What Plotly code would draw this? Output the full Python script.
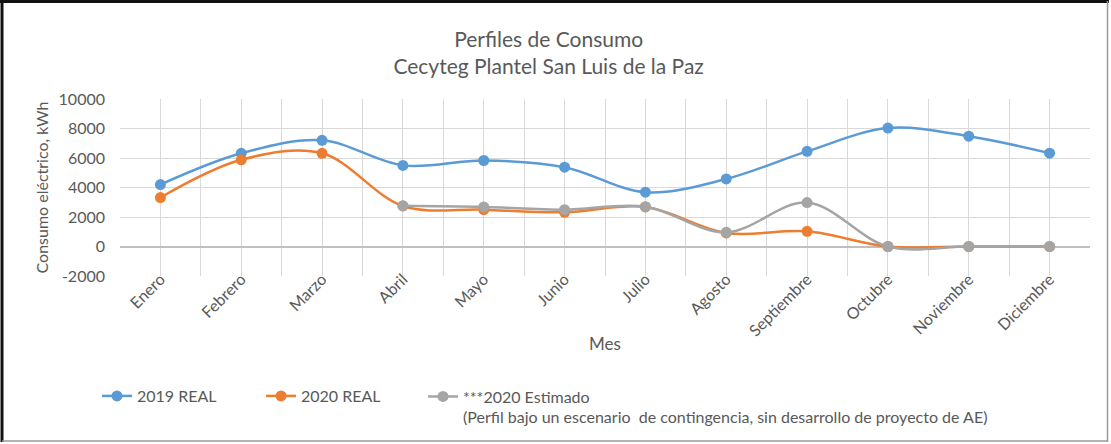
import plotly.graph_objects as go

months = ["Enero", "Febrero", "Marzo", "Abril", "Mayo", "Junio", "Julio",
          "Agosto", "Septiembre", "Octubre", "Noviembre", "Diciembre"]
real_2019 = [4200, 6320, 7200, 5500, 5830, 5380, 3680, 4580, 6450, 8030, 7480, 6330]
real_2020 = [3320, 5880, 6320, 2750, 2500, 2320, 2680, 920, 1030, 0, 0, 0]
est_2020 = [None, None, None, 2760, 2680, 2500, 2700, 960, 2980, 0, 0, 0]
y_ticks = [-2000, 0, 2000, 4000, 6000, 8000, 10000]
y_tick_text = ["-2000", "0", "2000", "4000", "6000", "8000", "10000"]

names = ["2019 REAL", "2020 REAL",
         "***2020 Estimado<br>(Perfil bajo un escenario  de contingencia, sin desarrollo de proyecto de AE)"]
colors = ["#5B9BD5", "#ED7D31", "#A5A5A5"]
series = [real_2019, real_2020, est_2020]
legend_ids = ["legend", "legend", "legend2"]

FONT = "Lato"
TXT = "#595959"

x_idx = list(range(len(months)))

fig = go.Figure()
for name, col, vals, lg in zip(names, colors, series, legend_ids):
    fig.add_trace(go.Scatter(
        x=x_idx, y=vals, name=name, mode="lines+markers",
        line=dict(color=col, width=2.5, shape="spline", smoothing=1.0),
        marker=dict(color=col, size=11),
        connectgaps=False, legend=lg,
    ))

L, R, T, B = 120, 21, 99, 168
W, H = 1111, 444
pw, ph = W - L - R, H - T - B

def px(x):
    return (x - L) / pw

def py(y):
    return (H - B - y) / ph

legend_common = dict(
    orientation="h", yanchor="middle", valign="top",
    font=dict(family=FONT, size=16, color=TXT),
    bgcolor="rgba(0,0,0,0)", tracegroupgap=0,
)

fig.update_layout(
    width=W, height=H,
    margin=dict(l=L, r=R, t=T, b=B, autoexpand=False),
    paper_bgcolor="white", plot_bgcolor="white",
    font=dict(family=FONT, color=TXT, size=15),
    title=dict(text="Perfiles de Consumo<br>Cecyteg Plantel San Luis de la Paz",
               x=px(599), xanchor="center", y=1 - 47 / H, yanchor="middle",
               font=dict(family=FONT, size=21, color=TXT)),
    xaxis=dict(
        range=[-0.5, 11.5], tickmode="array", tickvals=x_idx, ticktext=months,
        tickangle=-45, showgrid=True, gridcolor="#D9D9D9", gridwidth=1,
        zeroline=False, showline=False, ticks="", ticklabelstandoff=-10,
        tickfont=dict(family=FONT, size=16, color=TXT),
        minor=dict(tickmode="array", tickvals=[i - 0.5 for i in range(13)],
                   showgrid=True, gridcolor="#D9D9D9", gridwidth=1, ticks=""),
        fixedrange=True,
    ),
    yaxis=dict(
        range=[-2000, 10000], tickmode="array", tickvals=y_ticks, ticktext=y_tick_text,
        showgrid=True, gridcolor="#D9D9D9", gridwidth=1,
        zeroline=True, zerolinecolor="#BFBFBF", zerolinewidth=1.5,
        showline=False, ticks="", ticklabelstandoff=14,
        tickfont=dict(family=FONT, size=16, color=TXT),
        title=dict(text="Consumo eléctrico, kWh", font=dict(family=FONT, size=16, color=TXT), standoff=5),
        fixedrange=True,
    ),
    legend=dict(x=px(97), xanchor="left", y=py(396),
                entrywidth=119, entrywidthmode="pixels", **legend_common),
    legend2=dict(x=px(423), xanchor="left", y=py(407), **legend_common),
    showlegend=True,
)

# x-axis title
fig.add_annotation(text="Mes", xref="paper", yref="paper", x=px(605), y=py(343),
                   xanchor="center", yanchor="middle", showarrow=False,
                   font=dict(family=FONT, size=17, color=TXT))

# outer frame of the chart image
fig.add_shape(type="line", xref="paper", yref="paper",
              x0=px(2), x1=px(2), y0=py(0), y1=py(442), line=dict(color="#111111", width=3))
fig.add_shape(type="line", xref="paper", yref="paper",
              x0=px(0), x1=px(1109), y0=py(1.5), y1=py(1.5), line=dict(color="#111111", width=3))
fig.add_shape(type="line", xref="paper", yref="paper",
              x0=px(1107.5), x1=px(1107.5), y0=py(1), y1=py(442), line=dict(color="#9A9A9A", width=1.5))
fig.add_shape(type="line", xref="paper", yref="paper",
              x0=px(2), x1=px(1108), y0=py(441), y1=py(441), line=dict(color="#9A9A9A", width=1.5))

fig.write_html("out.html", config={"displayModeBar": False},
               post_script="document.body.style.margin='0';")
